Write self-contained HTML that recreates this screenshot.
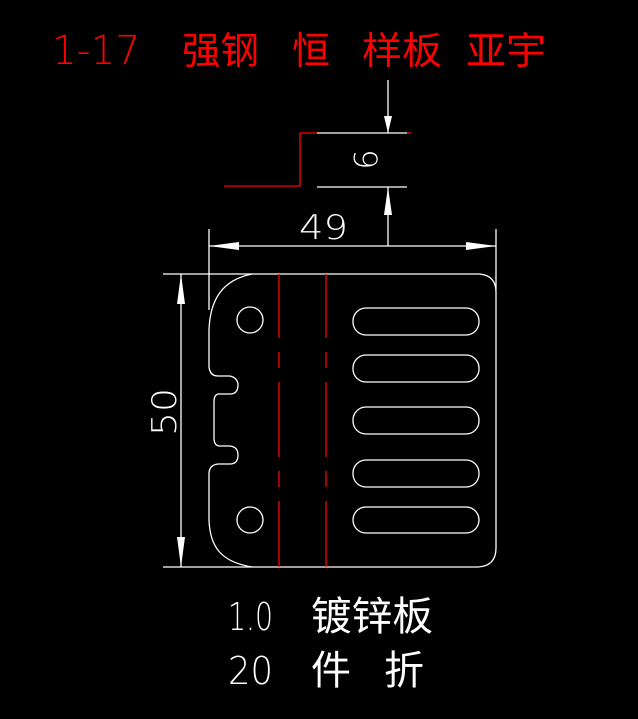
<!DOCTYPE html>
<html><head><meta charset="utf-8"><style>
html,body{margin:0;padding:0;background:#000;width:638px;height:719px;overflow:hidden}
svg{display:block}
.cn{font-family:"Liberation Sans","Noto Sans CJK SC",sans-serif}
.d{font-family:"DejaVu Sans","Liberation Sans",sans-serif;font-weight:200}
</style></head><body>
<svg width="638" height="719" viewBox="0 0 638 719" xmlns="http://www.w3.org/2000/svg">
<rect width="638" height="719" fill="#000"/>
<!-- title -->
<text x="52" y="64" class="d" font-size="40" fill="#f00" textLength="88" lengthAdjust="spacingAndGlyphs">1-17</text>
<g class="cn" font-size="38" fill="#f00">
<text x="182" y="64" textLength="77" lengthAdjust="spacingAndGlyphs">强钢</text>
<text x="292" y="64">恒</text>
<text x="362" y="64" textLength="80" lengthAdjust="spacingAndGlyphs">样板</text>
<text x="466" y="64" textLength="80" lengthAdjust="spacingAndGlyphs">亚宇</text>
</g>
<!-- bottom text -->
<text x="228" y="630" class="d" font-size="38" fill="#fff" textLength="45" lengthAdjust="spacingAndGlyphs">1.0</text>
<text x="228" y="684" class="d" font-size="38" fill="#fff" textLength="45" lengthAdjust="spacingAndGlyphs">20</text>
<g class="cn" font-size="40" fill="#fff">
<text x="311" y="630" textLength="122" lengthAdjust="spacingAndGlyphs">镀锌板</text>
<text x="311" y="684">件</text>
<text x="384" y="684">折</text>
</g>
<g stroke="#fff" stroke-width="1.3" fill="none">
<line x1="388" y1="80" x2="388" y2="133"/>
<line x1="317" y1="133" x2="407" y2="133"/>
<line x1="317" y1="187" x2="407" y2="187"/>
<line x1="388" y1="187" x2="388" y2="246"/>
<line x1="209" y1="229" x2="209" y2="310"/>
<line x1="496" y1="229" x2="496" y2="290"/>
<line x1="209" y1="246" x2="496" y2="246"/>
<line x1="163" y1="274" x2="480" y2="274"/>
<line x1="163" y1="567" x2="478" y2="567"/>
<line x1="181" y1="274" x2="181" y2="567"/>
<path d="M480 274 Q496 276 496 292 L496 548 Q496 566 478 567"/>
<path d="M252 274 C222 280 210 300 209 330 L209 367 Q210 376 218 376 L230 376 Q238 378 238 385 Q238 394 230 394 L218 394 Q214 395 214 402 L214 438 Q214 446 220 446 L230 446 Q238 447 238 455 Q238 464 230 464 L218 464 Q209 465 209 474 L209 520 C210 548 222 562 252 567"/>
<circle cx="250" cy="320" r="13"/>
<circle cx="250" cy="520" r="13"/>
<rect x="353" y="308" width="126" height="27" rx="13"/>
<rect x="353" y="355" width="126" height="27" rx="13"/>
<rect x="353" y="407" width="126" height="27" rx="13"/>
<rect x="353" y="460" width="126" height="27" rx="13"/>
<rect x="353" y="507" width="126" height="26" rx="13"/>
</g>
<g fill="#fff">
<polygon points="388,133 384,116 392,116"/>
<polygon points="388,187 384,215 392,215"/>
<polygon points="209,246 239,242 239,250"/>
<polygon points="496,246 466,242 466,250"/>
<polygon points="181,274 177,304 185,304"/>
<polygon points="181,567 177,537 185,537"/>
</g>
<g stroke="#f00" stroke-width="1.3" fill="none">
<polyline points="224,186 300,186 300,133 317,133"/>
<line x1="407" y1="133" x2="411" y2="133"/>
<line x1="279" y1="274" x2="279" y2="567" stroke-dasharray="64,14,16,14,75,14,16,14,80"/>
<line x1="326" y1="274" x2="326" y2="567" stroke-dasharray="64,14,16,14,75,14,16,14,80"/>
</g>
<text x="299" y="239" class="d" font-size="34" fill="#fff" textLength="49" lengthAdjust="spacingAndGlyphs">49</text>
<text transform="translate(354,149) rotate(90)" x="0" y="0" class="d" font-size="32" fill="#fff">9</text>
<text transform="translate(176,436) rotate(-90)" x="0" y="0" class="d" font-size="34" fill="#fff" textLength="48" lengthAdjust="spacingAndGlyphs">50</text>
</svg>
</body></html>
